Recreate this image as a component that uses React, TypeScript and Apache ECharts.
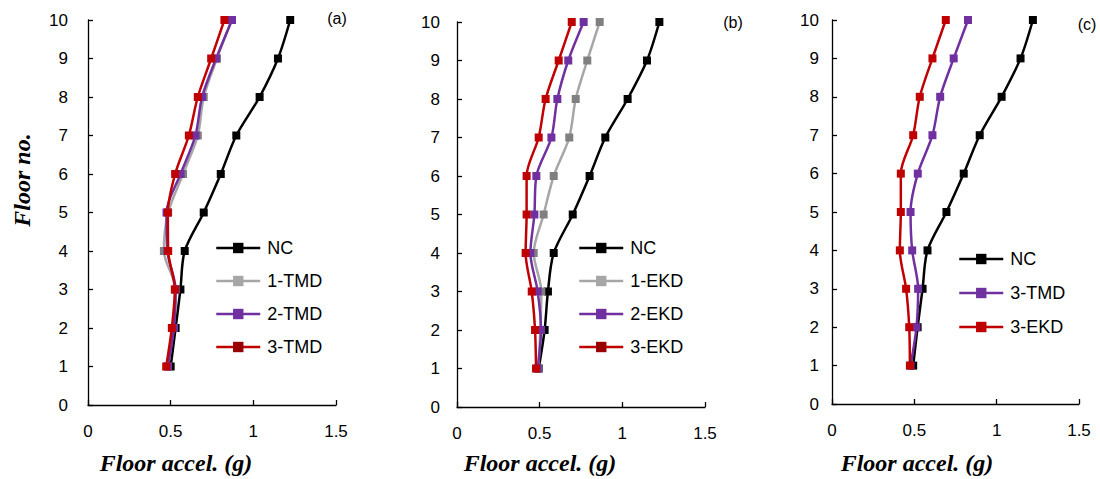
import React, { useEffect, useRef } from "react";
import * as echarts from "echarts";

const floors = [1, 2, 3, 4, 5, 6, 7, 8, 9, 10];
const yTicks = [0, 10];
const xTicks = [0, 1.5];

// Panel (a)
const ncA = [0.5, 0.53, 0.559, 0.585, 0.7, 0.803, 0.897, 1.038, 1.149, 1.223];
const tmd1A = [0.483, 0.515, 0.53, 0.459, 0.485, 0.575, 0.664, 0.7, 0.78, 0.87];
const tmd2A = [0.483, 0.52, 0.53, 0.48, 0.475, 0.56, 0.65, 0.69, 0.775, 0.871];
const tmd3A = [0.473, 0.507, 0.525, 0.485, 0.483, 0.527, 0.61, 0.664, 0.745, 0.825];

// Panel (b)
const ncB = [0.494, 0.53, 0.55, 0.585, 0.7, 0.802, 0.897, 1.032, 1.149, 1.224];
const ekd1B = [0.492, 0.504, 0.51, 0.464, 0.524, 0.585, 0.679, 0.718, 0.788, 0.863];
const ekd2B = [0.488, 0.508, 0.488, 0.444, 0.468, 0.48, 0.571, 0.607, 0.673, 0.766];
const ekd3B = [0.478, 0.472, 0.452, 0.415, 0.421, 0.421, 0.494, 0.536, 0.615, 0.694];

// Panel (c)
const ncC = [0.493, 0.52, 0.55, 0.58, 0.695, 0.8, 0.897, 1.03, 1.145, 1.22];
const tmd3C = [0.477, 0.513, 0.523, 0.487, 0.477, 0.521, 0.61, 0.657, 0.739, 0.826];
const ekd3C = [0.473, 0.469, 0.45, 0.412, 0.418, 0.418, 0.493, 0.533, 0.61, 0.691];

const panelLabels = ["(a)", "(b)", "(c)"];
const xTitle = "Floor accel. (g)";
const yTitle = "Floor no.";

const BLACK = "#000000";
const GRAY_LINE = "#a6a6a6";
const GRAY_MARK = "#808080";
const PURPLE = "#7030a0";
const RED = "#c00000";
const DARKRED = "#990000";

type S = { name: string; values: number[]; line: string; mark: string; legendMark: string };

const panels: { series: S[]; grid: any; yLabelMargin: number; legend: { left: number; top: number; gap: number } }[] = [
  {
    series: [
      { name: "NC", values: ncA, line: BLACK, mark: BLACK, legendMark: BLACK },
      { name: "1-TMD", values: tmd1A, line: GRAY_LINE, mark: GRAY_MARK, legendMark: GRAY_LINE },
      { name: "2-TMD", values: tmd2A, line: PURPLE, mark: PURPLE, legendMark: PURPLE },
      { name: "3-TMD", values: tmd3A, line: RED, mark: RED, legendMark: DARKRED },
    ],
    grid: { left: 88, top: 20, width: 248, height: 385 },
    yLabelMargin: 20,
    legend: { left: 210, top: 234, gap: 15 },
  },
  {
    series: [
      { name: "NC", values: ncB, line: BLACK, mark: BLACK, legendMark: BLACK },
      { name: "1-EKD", values: ekd1B, line: GRAY_LINE, mark: GRAY_MARK, legendMark: GRAY_LINE },
      { name: "2-EKD", values: ekd2B, line: PURPLE, mark: PURPLE, legendMark: PURPLE },
      { name: "3-EKD", values: ekd3B, line: RED, mark: RED, legendMark: DARKRED },
    ],
    grid: { left: 457, top: 22, width: 248, height: 385 },
    yLabelMargin: 17,
    legend: { left: 573, top: 234, gap: 15 },
  },
  {
    series: [
      { name: "NC", values: ncC, line: BLACK, mark: BLACK, legendMark: BLACK },
      { name: "3-TMD", values: tmd3C, line: PURPLE, mark: PURPLE, legendMark: PURPLE },
      { name: "3-EKD", values: ekd3C, line: RED, mark: RED, legendMark: RED },
    ],
    grid: { left: 832, top: 20, width: 247, height: 384 },
    yLabelMargin: 13,
    legend: { left: 953, top: 245, gap: 16 },
  },
];

const xTitleCenters = [176, 540, 917];
const labelPos = [
  [337, 18],
  [733, 22],
  [1087, 24],
];

export default function App() {
  const ref = useRef<HTMLDivElement>(null);
  useEffect(() => {
    document.body.style.margin = "0";
    const chart = echarts.init(ref.current!, undefined, { renderer: "svg" });
    const tickFont = { fontFamily: "Liberation Sans", fontSize: 17, color: "#000" };
    const grids: any[] = [];
    const xAxes: any[] = [];
    const yAxes: any[] = [];
    const series: any[] = [];
    const legends: any[] = [];
    const graphics: any[] = [];

    panels.forEach((p, i) => {
      grids.push({ ...p.grid, containLabel: false });
      xAxes.push({
        type: "value",
        gridIndex: i,
        min: xTicks[0],
        max: xTicks[1],
        interval: 0.5,
        axisLine: { show: true, lineStyle: { color: "#000", width: 1.3 } },
        axisTick: { show: true, inside: true, length: 5, lineStyle: { color: "#000", width: 1.3 } },
        axisLabel: { ...tickFont, margin: 18 },
        splitLine: { show: false },
      });
      yAxes.push({
        type: "value",
        gridIndex: i,
        min: yTicks[0],
        max: yTicks[1],
        interval: 1,
        axisLine: { show: true, lineStyle: { color: "#000", width: 1.3 } },
        axisTick: { show: true, inside: true, length: 5, lineStyle: { color: "#000", width: 1.3 } },
        axisLabel: { ...tickFont, margin: p.yLabelMargin },
        splitLine: { show: false },
      });
      p.series.forEach((s) => {
        series.push({
          type: "line",
          name: s.name,
          xAxisIndex: i,
          yAxisIndex: i,
          data: s.values.map((v, k) => [v, floors[k]]),
          smooth: 0.3,
          symbol: "rect",
          symbolSize: 8,
          showSymbol: true,
          lineStyle: { color: s.line, width: 2.5 },
          itemStyle: { color: s.mark },
        });
      });
      legends.push({
        show: true,
        orient: "vertical",
        left: p.legend.left,
        top: p.legend.top,
        itemWidth: 44,
        itemHeight: 13,
        itemGap: p.legend.gap,
        selectedMode: false,
        textStyle: { fontFamily: "Liberation Sans", fontSize: 18, color: "#000", padding: [0, 0, 0, 2] },
        data: p.series.map((s) => ({
          name: s.name,
          itemStyle: { color: s.legendMark },
          lineStyle: { color: s.line, width: 2.5 },
        })),
      });
      graphics.push({
        type: "text",
        x: xTitleCenters[i],
        y: 463,
        style: {
          text: xTitle,
          font: "bold italic 24px 'Liberation Serif'",
          fill: "#000",
          align: "center",
          verticalAlign: "middle",
        },
      });
      graphics.push({
        type: "text",
        x: labelPos[i][0],
        y: labelPos[i][1],
        style: {
          text: panelLabels[i],
          font: "16px 'Liberation Sans'",
          fill: "#000",
          align: "center",
          verticalAlign: "middle",
        },
      });
    });
    graphics.push({
      type: "text",
      x: 22,
      y: 180,
      rotation: Math.PI / 2,
      style: {
        text: yTitle,
        font: "bold italic 24px 'Liberation Serif'",
        fill: "#000",
        align: "center",
        verticalAlign: "middle",
      },
    });

    chart.setOption({
      animation: false,
      backgroundColor: "#fff",
      grid: grids,
      xAxis: xAxes,
      yAxis: yAxes,
      series,
      legend: legends,
      graphic: graphics,
    });
    return () => chart.dispose();
  }, []);
  return <div ref={ref} style={{ width: 1100, height: 479 }} />;
}
